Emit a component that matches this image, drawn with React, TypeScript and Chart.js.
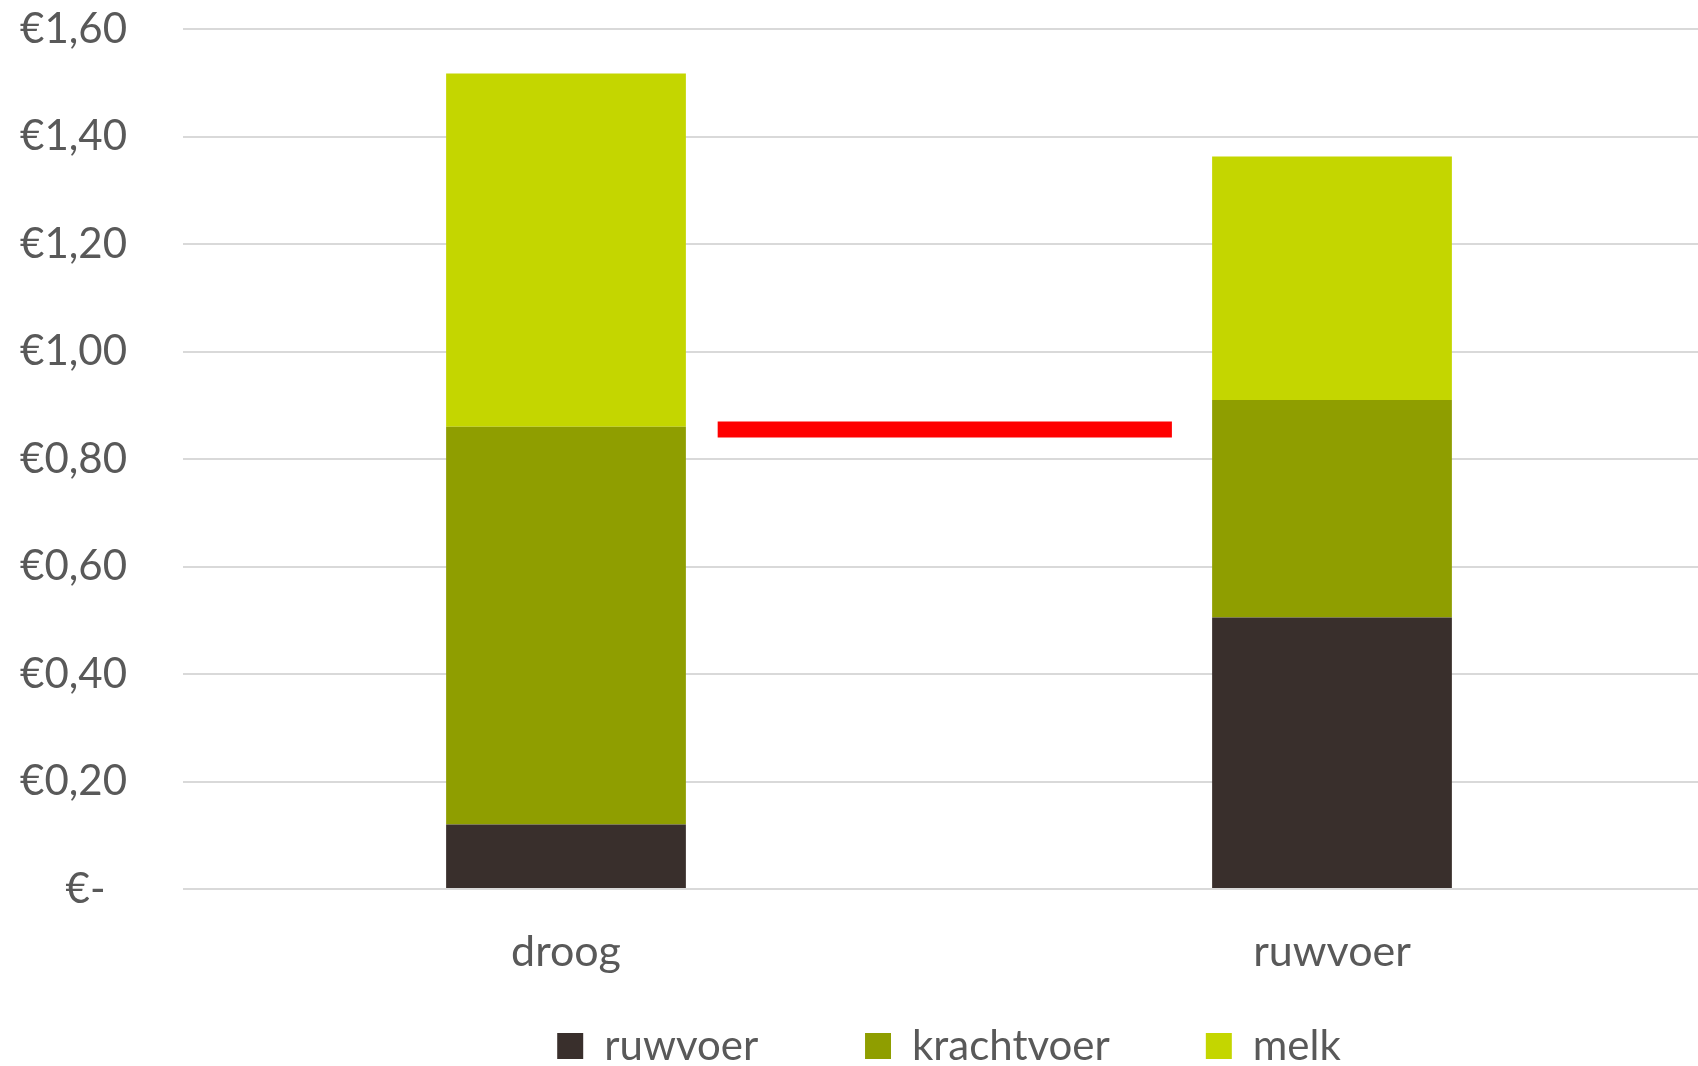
import React, { useEffect, useRef } from "react";
import { Chart, registerables } from "chart.js";

Chart.register(...registerables);

const categories = ["droog", "ruwvoer"];
const seriesNames = ["ruwvoer", "krachtvoer", "melk"];
const ruwvoerValues = [0.12, 0.505];
const krachtvoerValues = [0.74, 0.405];
const melkValues = [0.657, 0.453];
const seriesColors = ["#392F2C", "#8F9E00", "#C4D600"];
const yTickLabels = ["€-  ", "€0,20", "€0,40", "€0,60", "€0,80", "€1,00", "€1,20", "€1,40", "€1,60"];
// red reference line: value on the y axis, start/end in category-index units
const redLineValue = 0.855;
const redLineStart = 0.198;
const redLineEnd = 0.791;
const legendSpacing = ["         ", "        ", ""];

const FONT = "Lato";
const TEXT = "#595959";

const redLinePlugin = {
  id: "redLine",
  beforeDatasetsDraw(chart: any) {
    const { ctx, scales } = chart;
    const y = scales.y.getPixelForValue(redLineValue);
    const x1 = scales.x.getPixelForValue(redLineStart);
    const x2 = scales.x.getPixelForValue(redLineEnd);
    ctx.save();
    ctx.strokeStyle = "#FF0000";
    ctx.lineWidth = 16;
    ctx.lineCap = "butt";
    ctx.beginPath();
    ctx.moveTo(x1, y);
    ctx.lineTo(x2, y);
    ctx.stroke();
    ctx.restore();
  },
};

export default function App() {
  const ref = useRef<HTMLCanvasElement>(null);
  useEffect(() => {
    const ctx = ref.current!;
    const chart = new Chart(ctx, {
      type: "bar",
      data: {
        labels: categories,
        datasets: [
          { label: seriesNames[0], data: ruwvoerValues, backgroundColor: seriesColors[0] },
          { label: seriesNames[1], data: krachtvoerValues, backgroundColor: seriesColors[1] },
          { label: seriesNames[2], data: melkValues, backgroundColor: seriesColors[2] },
        ],
      },
      plugins: [redLinePlugin],
      options: {
        animation: false,
        responsive: false,
        maintainAspectRatio: false,
        categoryPercentage: 1,
        barPercentage: 0.313,
        layout: { padding: { top: 29, right: 0, left: 0, bottom: 0 } },
        scales: {
          x: {
            stacked: true,
            grid: { display: false, drawTicks: false },
            border: { display: false },
            ticks: { color: TEXT, font: { family: FONT, size: 43 }, padding: 37 },
            afterFit: (s: any) => { s.height = 126; s.paddingLeft = 0; s.paddingRight = 0; },
          },
          y: {
            stacked: true,
            min: 0,
            max: 1.6,
            grid: { color: "#D9D9D9", lineWidth: 2, drawTicks: false },
            border: { display: false },
            ticks: {
              stepSize: 0.2,
              color: TEXT,
              font: { family: FONT, size: 42 },
              padding: 56,
              callback: (_v: any, i: number) => yTickLabels[i],
            },
            afterFit: (s: any) => { s.width = 183; s.paddingTop = 0; s.paddingBottom = 0; },
          },
        },
        plugins: {
          tooltip: { enabled: false },
          legend: {
            position: "bottom",
            fullSize: false,
            labels: {
              color: TEXT,
              font: { family: FONT, size: 42 },
              boxWidth: 26,
              boxHeight: 26,
              padding: 10,
              generateLabels: (c: any) => {
                const items = Chart.defaults.plugins.legend.labels.generateLabels(c);
                return items.map((it: any) => ({ ...it, text: it.text + legendSpacing[it.datasetIndex], lineWidth: 0 }));
              },
            },
          },
        },
      } as any,
    });
    return () => chart.destroy();
  }, []);
  return (
    <div style={{ position: "absolute", left: 0, top: 0, width: 1698, height: 1066, overflow: "hidden", background: "#fff" }}>
      <canvas ref={ref} width={1715} height={1077} style={{ display: "block" }} />
    </div>
  );
}
